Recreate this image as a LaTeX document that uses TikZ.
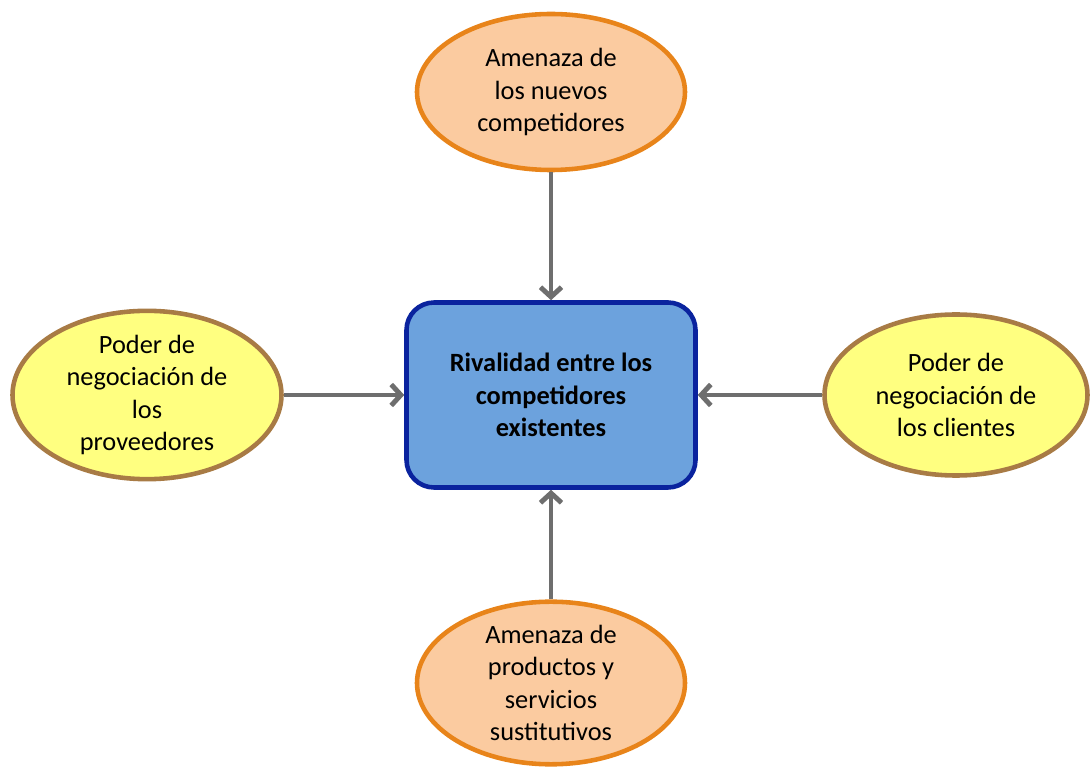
\documentclass[tikz,border=0pt]{standalone}
\usepackage{fontspec}
\setmainfont{Carlito}
\usetikzlibrary{shapes.geometric,arrows.meta}

\definecolor{peach}{HTML}{FBCBA0}
\definecolor{peachline}{HTML}{E8841A}
\definecolor{lemon}{HTML}{FFFF80}
\definecolor{lemonline}{HTML}{A87B45}
\definecolor{boxblue}{HTML}{6CA2DD}
\definecolor{boxline}{HTML}{0A239E}
\definecolor{arrowgray}{HTML}{6E6E6E}

\tikzset{
    amenaza/.style={ellipse, draw=peachline, fill=peach, line width=2.6pt,
        minimum width=5.36cm, minimum height=3.12cm, inner sep=0pt,
        align=center, font=\fontsize{15}{18.3}\selectfont},
    poder/.style={ellipse, draw=lemonline, fill=lemon, line width=2.6pt,
        minimum width=5.38cm, minimum height=3.22cm, inner sep=0pt,
        align=center, font=\fontsize{15}{18.3}\selectfont},
    fuerza/.style={->, draw=arrowgray, line width=2.8pt}
}

\begin{document}
\begin{tikzpicture}[>={Straight Barb[length=5.5pt,width=12pt]}]

\useasboundingbox (0,0) rectangle (21.84,15.38);

% Rivalidad (centro)
\node[rectangle, rounded corners=0.55cm, draw=boxline, fill=boxblue,
      line width=2.6pt, minimum width=5.78cm, minimum height=3.7cm,
      align=center, font=\fontsize{15}{18.3}\selectfont\bfseries]
    (rival) at (11.02,7.48) {Rivalidad entre los\\competidores\\existentes};

% Amenazas (arriba y abajo)
\node[amenaza] (nuevos) at (11.02,13.54) {Amenaza de\\los nuevos\\competidores};
\node[amenaza] (sustitutos) at (11.02,1.72) {Amenaza de\\productos y\\servicios\\sustitutivos};

% Poder de negociacion (izquierda y derecha)
\node[poder] (proveedores) at (2.94,7.48) {Poder de\\negociación de\\los\\proveedores};
\node[poder, minimum width=5.26cm] (clientes) at (19.12,7.48) {Poder de\\negociación de\\los clientes};

% Flechas hacia el centro
\draw[fuerza] (nuevos) -- (rival);
\draw[fuerza] (sustitutos) -- (rival);
\draw[fuerza] (proveedores) -- (rival);
\draw[fuerza] (clientes) -- (rival);

\end{tikzpicture}
\end{document}
